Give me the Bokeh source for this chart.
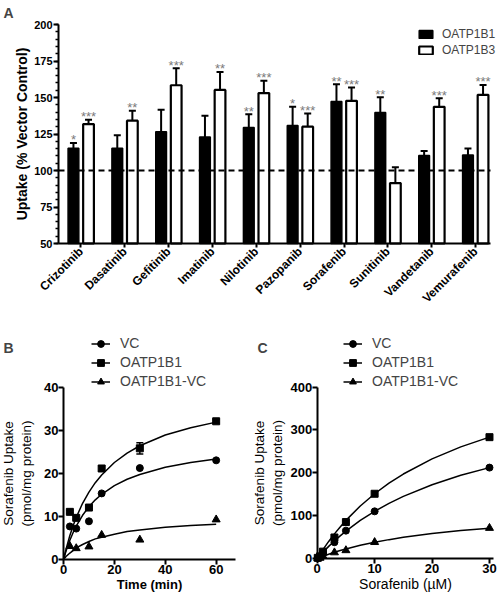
import math
import numpy as np
from bokeh.plotting import figure
from bokeh.models import (ColumnDataSource, Range1d, FixedTicker, SingleIntervalTicker,
                          Whisker, TeeHead, Legend, LegendItem, Label)
from bokeh.layouts import column, row
from bokeh.embed import file_html
from bokeh.resources import INLINE
from bokeh.core.properties import value

FONT = "Liberation Sans"

# ---------------- data: panel A ----------------
drugs = ["Crizotinib", "Dasatinib", "Gefitinib", "Imatinib", "Nilotinib",
         "Pazopanib", "Sorafenib", "Sunitinib", "Vandetanib", "Vemurafenib"]
oatp1b1 = [115.2, 115.2, 126.6, 123.0, 129.5, 130.9, 147.3, 139.8, 110.2, 110.7]
oatp1b1_err = [3.7, 8.9, 15.0, 14.5, 9.1, 12.7, 11.8, 10.4, 3.2, 4.3]
oatp1b3 = [131.8, 134.1, 158.4, 155.2, 153.0, 130.0, 147.7, 91.4, 143.6, 151.8]
oatp1b3_err = [3.0, 6.8, 11.6, 12.3, 8.4, 9.0, 9.1, 10.9, 5.9, 6.8]
oatp1b1_sig = ["*", "", "", "", "**", "*", "**", "**", "", ""]
oatp1b3_sig = ["***", "**", "***", "**", "***", "***", "***", "", "***", "***"]
control_level = 100

# ---------------- data: panel B (time course) ----------------
time_min = [2.5, 5, 10, 15, 30, 60]
b_vc = [7.7, 7.2, 8.9, 15.4, 21.3, 23.1]
b_oatp1b1 = [11.1, 9.7, 12.1, 21.2, 25.9, 32.2]
b_oatp1b1_err = [0.3, 0.4, 0.3, 0.6, 1.3, 0.4]
b_diff = [3.1, 2.6, 3.0, 5.7, 4.6, 9.3]
b_fit_time = [0, 1, 2.5, 4, 5, 7.5, 10, 12.5, 15, 20, 25, 30, 40, 50, 60]
b_oatp1b1_fit = [0, 2.4, 5.6, 8.2, 9.8, 13.1, 15.7, 17.9, 19.7, 22.6, 24.8, 26.5, 29.0, 30.7, 32.0]
b_vc_fit = [0, 2.0, 4.5, 6.6, 7.8, 10.3, 12.3, 13.9, 15.2, 17.2, 18.7, 19.8, 21.5, 22.6, 23.4]
b_diff_fit = [0, 0.7, 1.5, 2.2, 2.7, 3.5, 4.2, 4.8, 5.2, 5.9, 6.5, 6.9, 7.5, 7.9, 8.2]

# ---------------- data: panel C (concentration) ----------------
conc_um = [0.1, 0.5, 1, 3, 5, 10, 30]
c_vc = [1.0, 4, 12, 38, 65, 110, 212]
c_oatp1b1 = [1.5, 5, 16, 49, 85, 151, 283]
c_diff = [0.5, 1.5, 5.5, 14, 19, 38, 71]
c_fit_conc = [0, 0.5, 1, 2, 3, 4, 5, 7.5, 10, 12.5, 15, 20, 25, 30]
c_oatp1b1_fit = [0, 10.6, 20.7, 39.8, 57.4, 73.7, 88.9, 122.5, 151.0, 175.6, 197.0, 232.3, 260.4, 283.0]
c_vc_fit = [0, 7.5, 14.7, 28.3, 41.0, 52.8, 63.9, 88.7, 110.0, 128.6, 144.9, 172.1, 194.0, 212.0]
c_diff_fit = [0, 2.7, 5.2, 10.0, 14.4, 18.5, 22.3, 30.7, 37.9, 44.0, 49.3, 58.1, 65.1, 70.8]


class Frame:
    """Pixel layout of one figure: the frame covers the whole figure, axes are
    drawn at fixed data locations so that letters and legends are not clipped."""
    def __init__(self, width, height, x0_px, x1_px, x0, x1, y0_px, y1_px, y0, y1):
        self.width, self.height = width, height
        self.sx = (x1_px - x0_px) / (x1 - x0)
        self.sy = (y0_px - y1_px) / (y1 - y0)
        self.x0, self.x0_px, self.y0, self.y0_px = x0, x0_px, y0, y0_px
        self.xr = Range1d(x0 - x0_px / self.sx, x1 + (width - x1_px) / self.sx)
        self.yr = Range1d(y0 - (height - y0_px) / self.sy, y1 + y1_px / self.sy)

    def dx(self, px):
        return self.x0 + (px - self.x0_px) / self.sx

    def dy(self, py):
        return self.y0 + (self.y0_px - py) / self.sy


def make_fig(fr):
    p = figure(width=fr.width, height=fr.height, x_range=fr.xr, y_range=fr.yr,
               output_backend="svg", toolbar_location=None, min_border=0,
               min_border_left=0, min_border_right=0, min_border_top=0, min_border_bottom=0)
    p.outline_line_color = None
    p.xgrid.visible = False
    p.ygrid.visible = False
    p.background_fill_color = "white"
    p.border_fill_color = "white"
    for ax in p.axis:
        ax.axis_line_width = 2
        ax.axis_line_color = "black"
        ax.major_tick_line_width = 2
        ax.major_tick_line_color = "black"
        ax.minor_tick_line_color = "black"
        ax.major_tick_in = 0
        ax.major_tick_out = 5
        ax.minor_tick_in = 0
        ax.minor_tick_out = 3
        ax.minor_tick_line_width = 1.5
        ax.major_label_text_font = FONT
        ax.major_label_text_font_style = "bold"
        ax.major_label_text_color = "black"
        ax.axis_label_text_font = FONT
        ax.axis_label_text_color = "black"
    return p


# ================= Panel A =================
X_START, X_END = -0.513, 9.342
DODGE = 0.172
BAR_W = 0.245
Y_LO, Y_HI = 50, 200
frA = Frame(497, 334, 58, 490, X_START, X_END, 243, 24, Y_LO, Y_HI)
pa = make_fig(frA)
pa.xaxis.fixed_location = Y_LO
pa.xaxis.bounds = (X_START, X_END)
pa.yaxis.fixed_location = X_START
pa.yaxis.bounds = (Y_LO, Y_HI)

idx = np.arange(len(drugs))
srcA = ColumnDataSource(dict(
    x1=idx - DODGE, x3=idx + DODGE,
    b1=oatp1b1, b3=oatp1b3,
    u1=[v + e for v, e in zip(oatp1b1, oatp1b1_err)],
    u3=[v + e for v, e in zip(oatp1b3, oatp1b3_err)],
    s1=oatp1b1_sig, s3=oatp1b3_sig,
))

r1 = pa.vbar(x="x1", top="b1", bottom=Y_LO, width=BAR_W, source=srcA,
             fill_color="black", line_color="black", line_width=1.5)
r3 = pa.vbar(x="x3", top="b3", bottom=Y_LO, width=BAR_W, source=srcA,
             fill_color="white", line_color="black", line_width=2.2)

for xb, lo, up in (("x1", "b1", "u1"), ("x3", "b3", "u3")):
    pa.add_layout(Whisker(base=xb, lower=lo, upper=up, source=srcA, dimension="height",
                          lower_head=None,
                          upper_head=TeeHead(size=7, line_width=2, line_color="black"),
                          line_width=2, line_color="black"))

pa.segment(x0=[X_START], x1=[X_END], y0=[control_level], y1=[control_level],
           line_dash="6 4", line_width=2, line_color="black")

for xb, yb, tb in (("x1", "u1", "s1"), ("x3", "u3", "s3")):
    pa.text(x=xb, y=yb, text=tb, source=srcA, text_align="center",
            text_baseline="alphabetic", y_offset=-3,
            text_font=value(FONT), text_font_size="13px", text_color="#7a7a7a")

pa.xaxis.ticker = FixedTicker(ticks=list(range(len(drugs))))
pa.xaxis.major_label_overrides = {i: d for i, d in enumerate(drugs)}
pa.xaxis.major_label_orientation = math.pi / 4
pa.xaxis.major_label_text_font_size = "12px"
pa.xaxis.major_tick_out = 4
pa.xaxis.major_label_standoff = 2

pa.yaxis.ticker = SingleIntervalTicker(interval=25, num_minor_ticks=5)
pa.yaxis.major_label_text_font_size = "11px"
pa.yaxis.major_label_standoff = 1
pa.yaxis.axis_label = "Uptake (% Vector Control)"
pa.yaxis.axis_label_text_font_size = "14px"
pa.yaxis.axis_label_text_font_style = "bold"
pa.yaxis.axis_label_standoff = 1

legA = Legend(items=[LegendItem(label="OATP1B1", renderers=[r1]),
                     LegendItem(label="OATP1B3", renderers=[r3])],
              location=(417, 334 - 56.5), orientation="vertical",
              glyph_width=17, glyph_height=10, label_height=14, spacing=2,
              label_standoff=8, padding=0, margin=0,
              border_line_color=None, background_fill_alpha=0,
              label_text_font=FONT, label_text_font_size="12px")
pa.add_layout(legA)
pa.add_layout(Label(x=frA.dx(3), y=frA.dy(12.5), text="A", text_align="left",
                    text_baseline="alphabetic",
                    text_font=FONT, text_font_style="bold", text_font_size="14px"))


# ================= Panels B and C =================
def kinetics_panel(fr, x_end, y_end, x_int, y_int,
                   xs, vc, o1, diff, fit_x, vc_fit, o1_fit, diff_fit,
                   xlabel, xlabel_bold, letter, letter_px, legend_px, ylab_standoff,
                   o1_err=None):
    p = make_fig(fr)
    p.xaxis.fixed_location = 0
    p.xaxis.bounds = (0, x_end)
    p.yaxis.fixed_location = 0
    p.yaxis.bounds = (0, y_end)
    lines, marks = [], []
    for fy, y, mk, sz in ((vc_fit, vc, "circle", 7), (o1_fit, o1, "square", 7),
                          (diff_fit, diff, "triangle", 8)):
        ln = p.line(fit_x, fy, line_color="black", line_width=1.5)
        sc = p.scatter(xs, y, marker=mk, size=sz, fill_color="black", line_color="black")
        lines.append(ln)
        marks.append(sc)
    if o1_err is not None:
        esrc = ColumnDataSource(dict(x=xs, lo=[v - e for v, e in zip(o1, o1_err)],
                                     hi=[v + e for v, e in zip(o1, o1_err)]))
        p.add_layout(Whisker(base="x", lower="lo", upper="hi", source=esrc, dimension="height",
                             lower_head=TeeHead(size=7, line_width=1.5),
                             upper_head=TeeHead(size=7, line_width=1.5),
                             line_width=1.5, line_color="black"))
    p.xaxis.ticker = SingleIntervalTicker(interval=x_int, num_minor_ticks=0)
    p.yaxis.ticker = SingleIntervalTicker(interval=y_int, num_minor_ticks=0)
    for ax in p.axis:
        ax.major_label_text_font_size = "13px"
        ax.major_label_standoff = 0
    p.xaxis.axis_label = xlabel
    p.xaxis.axis_label_text_font_size = "14px" if not xlabel_bold else "13px"
    p.xaxis.axis_label_text_font_style = "bold" if xlabel_bold else "normal"
    p.xaxis.axis_label_standoff = 0
    p.yaxis.axis_label = "Sorafenib Uptake\n(pmol/mg protein)"
    p.yaxis.axis_label_text_font_size = "13.5px"
    p.yaxis.axis_label_text_font_style = "normal"
    p.yaxis.axis_label_standoff = ylab_standoff

    leg = Legend(items=[LegendItem(label="VC", renderers=[lines[0], marks[0]]),
                        LegendItem(label="OATP1B1", renderers=[lines[1], marks[1]]),
                        LegendItem(label="OATP1B1-VC", renderers=[lines[2], marks[2]])],
                 location=(legend_px, fr.height - 55.5), orientation="vertical",
                 glyph_width=19, glyph_height=17, label_height=17, spacing=2,
                 label_standoff=10, padding=0, margin=0,
                 border_line_color=None, background_fill_alpha=0,
                 label_text_font=FONT, label_text_font_size="14px")
    p.add_layout(leg)
    p.add_layout(Label(x=fr.dx(letter_px), y=fr.dy(13), text=letter, text_align="left",
                       text_baseline="alphabetic",
                       text_font=FONT, text_font_style="bold", text_font_size="14px"))
    return p


B_XEND, B_YEND = 67.6, 40
frB = Frame(250, 266, 63, 235, 0, B_XEND, 225, 53.3, 0, B_YEND)
pb = kinetics_panel(frB, B_XEND, B_YEND, 20, 10,
                    time_min, b_vc, b_oatp1b1, b_diff,
                    b_fit_time, b_vc_fit, b_oatp1b1_fit, b_diff_fit,
                    "Time (min)", True, "B", 3, 91, 7, o1_err=b_oatp1b1_err)

C_XEND, C_YEND = 30.7, 400
frC = Frame(247, 266, 66.7, 243, 0, C_XEND, 224, 52.5, 0, C_YEND)
pc = kinetics_panel(frC, C_XEND, C_YEND, 10, 100,
                    conc_um, c_vc, c_oatp1b1, c_diff,
                    c_fit_conc, c_vc_fit, c_oatp1b1_fit, c_diff_fit,
                    "Sorafenib (\u00b5M)", False, "C", 7, 93, 3)

layout = column(pa, row(pb, pc))
open("out.html", "w").write(file_html(layout, INLINE))
